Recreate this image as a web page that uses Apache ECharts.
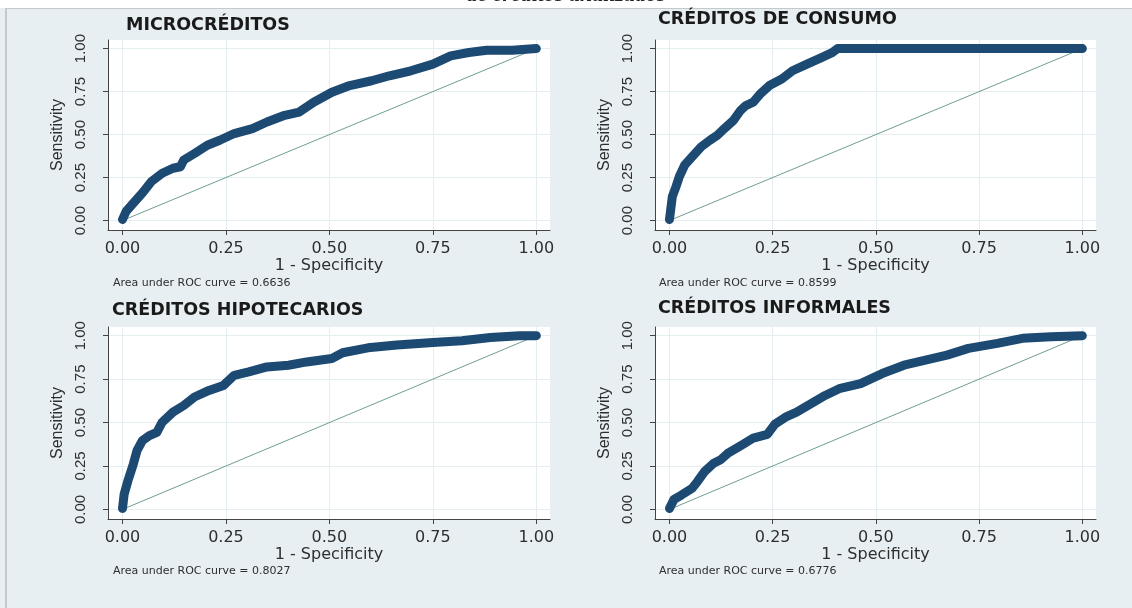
<!DOCTYPE html>
<html><head><meta charset="utf-8">
<script src="https://cdn.jsdelivr.net/npm/echarts@6/dist/echarts.min.js"></script>
<style>html,body{margin:0;padding:0;background:#fff}#c{width:1132px;height:608px}</style>
</head><body><div id="c"></div>
<script>
// ---- data ----
const PANEL_TITLES = ['MICROCRÉDITOS', 'CRÉDITOS DE CONSUMO', 'CRÉDITOS HIPOTECARIOS', 'CRÉDITOS INFORMALES'];
const AUC = ['0.6636', '0.8599', '0.8027', '0.6776'];
const TICKS = [0, 0.25, 0.5, 0.75, 1];
const DIAG_X = [0, 1];
const DIAG_Y = [0, 1];

const MICRO_X = [0, 0.009, 0.026, 0.048, 0.07, 0.096, 0.122, 0.14, 0.148, 0.174, 0.205, 0.235, 0.27, 0.314, 0.349, 0.392, 0.427, 0.462, 0.506, 0.549, 0.602, 0.645, 0.697, 0.75, 0.793, 0.837, 0.88, 0.942, 1];
const MICRO_Y = [0.006, 0.054, 0.10, 0.16, 0.227, 0.275, 0.304, 0.313, 0.352, 0.39, 0.438, 0.467, 0.506, 0.535, 0.573, 0.612, 0.631, 0.688, 0.746, 0.785, 0.813, 0.842, 0.871, 0.91, 0.958, 0.977, 0.99, 0.99, 1];

const CONSUMO_X = [0, 0.003, 0.007, 0.016, 0.024, 0.037, 0.055, 0.077, 0.098, 0.116, 0.133, 0.155, 0.172, 0.185, 0.203, 0.22, 0.242, 0.272, 0.298, 0.333, 0.368, 0.394, 0.407, 1];
const CONSUMO_Y = [0.006, 0.063, 0.14, 0.198, 0.256, 0.323, 0.371, 0.429, 0.467, 0.496, 0.535, 0.583, 0.64, 0.669, 0.688, 0.737, 0.785, 0.823, 0.871, 0.91, 0.948, 0.977, 1, 1];

const HIPO_X = [0, 0.004, 0.013, 0.026, 0.035, 0.048, 0.065, 0.083, 0.096, 0.122, 0.148, 0.174, 0.209, 0.244, 0.27, 0.305, 0.349, 0.401, 0.445, 0.506, 0.532, 0.593, 0.663, 0.75, 0.82, 0.889, 0.959, 1];
const HIPO_Y = [0.006, 0.087, 0.164, 0.26, 0.338, 0.396, 0.425, 0.444, 0.502, 0.56, 0.598, 0.647, 0.685, 0.714, 0.772, 0.792, 0.82, 0.83, 0.849, 0.869, 0.902, 0.93, 0.946, 0.961, 0.971, 0.99, 1, 1];

const INFOR_X = [0, 0.011, 0.029, 0.055, 0.068, 0.085, 0.107, 0.124, 0.142, 0.177, 0.203, 0.237, 0.255, 0.281, 0.308, 0.342, 0.377, 0.411, 0.463, 0.515, 0.568, 0.62, 0.672, 0.724, 0.794, 0.855, 0.924, 1];
const INFOR_Y = [0.006, 0.058, 0.083, 0.122, 0.161, 0.218, 0.266, 0.286, 0.324, 0.373, 0.411, 0.432, 0.49, 0.531, 0.56, 0.608, 0.656, 0.695, 0.724, 0.782, 0.83, 0.859, 0.888, 0.927, 0.956, 0.985, 0.994, 1];

const CURVES = [[MICRO_X, MICRO_Y], [CONSUMO_X, CONSUMO_Y], [HIPO_X, HIPO_Y], [INFOR_X, INFOR_Y]];

// ---- layout ----
const GRIDS = [
  {left: 108, top: 40, width: 442, height: 190},
  {left: 655, top: 40, width: 441, height: 190},
  {left: 108, top: 327, width: 442, height: 192},
  {left: 655, top: 327, width: 441, height: 192}
];
const TITLE_POS = [[126, 26], [658, 20], [112, 311], [658, 309]];
const AUC_POS = [[113, 285], [659, 285], [113, 573], [659, 573]];

const zip = (xs, ys) => xs.map((x, i) => [x, ys[i]]);
const AX = '#444';
const TXT = '#2e2e2e';
const TF = 17.5;

const xAxes = [], yAxes = [], series = [], graphics = [];
GRIDS.forEach((g, i) => {
  xAxes.push({
    type: 'value', gridIndex: i, min: -0.035, max: 1.033,
    axisLine: {show: true, onZero: false, lineStyle: {color: AX, width: 1}},
    axisTick: {show: true, length: 5, customValues: TICKS, lineStyle: {color: AX}},
    axisLabel: {customValues: TICKS, formatter: v => v.toFixed(2), fontFamily: 'DejaVu Sans', fontSize: 16, color: TXT, margin: 11},
    splitLine: {show: true, lineStyle: {color: '#e4edf0', width: 1}},
    name: '1 - Specificity', nameLocation: 'middle', nameGap: 28,
    nameTextStyle: {fontFamily: 'DejaVu Sans', fontSize: 16, color: TXT}
  });
  yAxes.push({
    type: 'value', gridIndex: i, min: -0.055, max: 1.05,
    axisLine: {show: true, onZero: false, lineStyle: {color: AX, width: 1}},
    axisTick: {show: true, length: 5, customValues: TICKS, lineStyle: {color: AX}},
    axisLabel: {customValues: TICKS, formatter: v => v.toFixed(2), rotate: 90, fontFamily: 'Liberation Sans', fontSize: 15, color: TXT, margin: 20},
    splitLine: {show: true, lineStyle: {color: '#e4edf0', width: 1}},
    name: 'Sensitivity', nameLocation: 'middle', nameGap: 42,
    nameTextStyle: {fontFamily: 'Liberation Sans', fontSize: 16, color: TXT}
  });
  series.push({
    type: 'line', xAxisIndex: i, yAxisIndex: i, data: zip(DIAG_X, DIAG_Y),
    showSymbol: false, silent: true, z: 2,
    lineStyle: {color: '#6f9e92', width: 1}
  });
  series.push({
    type: 'line', xAxisIndex: i, yAxisIndex: i, data: zip(CURVES[i][0], CURVES[i][1]),
    showSymbol: false, silent: true, z: 3, clip: false,
    lineStyle: {color: '#1d4a73', width: 9, cap: 'round', join: 'round'}
  });
  graphics.push({
    type: 'text', left: TITLE_POS[i][0], top: TITLE_POS[i][1] - TF / 2 - 1,
    style: {text: PANEL_TITLES[i], fontFamily: 'DejaVu Sans', fontWeight: 'bold', fontSize: TF, fill: '#1a1a1a'}
  });
  graphics.push({
    type: 'text', left: AUC_POS[i][0], top: AUC_POS[i][1] - 7,
    style: {text: 'Area under ROC curve = ' + AUC[i], fontFamily: 'DejaVu Sans', fontSize: 11, fill: TXT}
  });
});

graphics.unshift(
  {type: 'rect', left: 0, top: 0, shape: {width: 1132, height: 8}, style: {fill: '#ffffff'}, z: -10},
  {type: 'rect', left: 5, top: 8, shape: {width: 1127, height: 1}, style: {fill: '#c4c9cc'}, z: -9},
  {type: 'rect', left: 5, top: 8, shape: {width: 2, height: 600}, style: {fill: '#c4c9cc'}, z: -9},
  {type: 'text', left: 'center', top: -16,
   style: {text: 'de créditos analizados', fontFamily: 'Liberation Serif', fontStyle: 'italic', fontWeight: 'bold', fontSize: 22, fill: '#222'}}
);

const chart = echarts.init(document.getElementById('c'), null, {renderer: 'canvas'});
chart.setOption({
  backgroundColor: '#e8eff2',
  animation: false,
  grid: GRIDS.map(g => Object.assign({show: true, backgroundColor: '#ffffff', borderWidth: 0, containLabel: false}, g)),
  xAxis: xAxes,
  yAxis: yAxes,
  series: series,
  graphic: graphics
});
</script></body></html>
